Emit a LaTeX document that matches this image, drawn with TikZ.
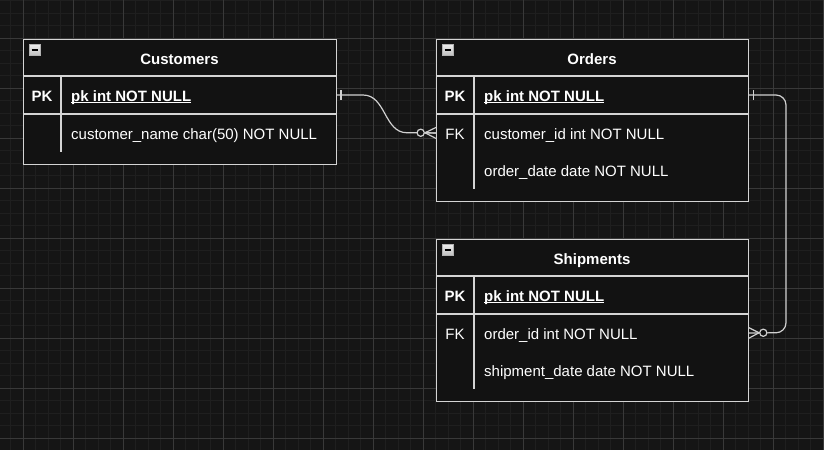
\documentclass[tikz,border=0pt]{standalone}
\usepackage{fontspec}
\setmainfont{Liberation Sans}
\definecolor{bg}{HTML}{151515}
\definecolor{gridminor}{HTML}{1F1F1F}
\definecolor{gridmajor}{HTML}{393939}
\definecolor{boxfill}{HTML}{121212}
\definecolor{edgecol}{HTML}{D4D4D4}
\definecolor{conncol}{HTML}{D0D0D0}
\begin{document}
\begin{tikzpicture}[x=1pt,y=-1pt,
  tablebox/.style={draw=edgecol,line width=1.2pt,fill=boxfill,anchor=north west,inner sep=0pt,minimum height=#1},
  rowbox/.style={anchor=north west,inner sep=0pt,minimum height=37.5pt},
  sep/.style={draw=edgecol,line width=1.2pt},
  txt/.style={text=white,inner sep=0pt,font=\fontsize{15}{18}\selectfont},
  title/.style={txt,anchor=base,font=\fontsize{15}{18}\selectfont\bfseries},
  keybold/.style={txt,anchor=base,font=\fontsize{15}{18}\selectfont\bfseries},
  keyreg/.style={txt,anchor=base},
  fieldpk/.style={txt,anchor=base west,font=\fontsize{15}{18}\selectfont\bfseries},
  field/.style={txt,anchor=base west},
  uline/.style={draw=white,line width=1.1pt},
  conn/.style={draw=conncol,line width=1.2pt},
  ring/.style={draw=conncol,line width=1.2pt,fill=boxfill},
  minusicon/.style={draw=gray!60,line width=0.8pt,top color=gray!15,bottom color=gray!50}
]
\useasboundingbox (0,0) rectangle (824,450);
\fill[bg] (0,0) rectangle (824,450);
% grid
\foreach \x in {10.8,23.3,...,824} \draw[gridminor,line width=1pt] (\x,0) -- (\x,450);
\foreach \y in {0.8,13.3,...,450} \draw[gridminor,line width=1pt] (0,\y) -- (824,\y);
\foreach \x in {23.3,73.3,...,824} \draw[gridmajor,line width=1pt] (\x,0) -- (\x,450);
\foreach \y in {38.3,88.3,...,450} \draw[gridmajor,line width=1pt] (0,\y) -- (824,\y);

% ---------- Customers ----------
\node[tablebox=125pt,minimum width=313pt] (cust) at (23,39) {};
\draw[sep] (23,76) -- (336,76);
\draw[sep] (23,114) -- (336,114);
\draw[sep] (61,76) -- (61,151.5);
\node[rowbox,minimum width=313pt] (custpk) at (23,76) {};
\node[rowbox,minimum width=313pt] (custr1) at (23,114) {};
\shade[minusicon] (29,44.5) rectangle (40.5,55.5);
\draw[black,line width=1.6pt] (31.5,50.2) -- (38,50.2);
\node[title] (custtitle) at (179.5,64) {Customers};
\node[keybold] (custpkkey) at (42,101) {PK};
\node[fieldpk] (custpkfield) at (71,101) {pk int NOT NULL};
\draw[uline] ([yshift=-1.8pt]custpkfield.base west) -- ([yshift=-1.8pt]custpkfield.base east);
\node[field] (custname) at (71,139) {customer\_name char(50) NOT NULL};

% ---------- Orders ----------
\node[tablebox=162pt,minimum width=312pt] (ord) at (436,39) {};
\draw[sep] (436,76) -- (748,76);
\draw[sep] (436,114) -- (748,114);
\draw[sep] (474,76) -- (474,189);
\node[rowbox,minimum width=312pt] (ordpk) at (436,76) {};
\node[rowbox,minimum width=312pt] (ordfk) at (436,114) {};
\shade[minusicon] (442,44.5) rectangle (453.5,55.5);
\draw[black,line width=1.6pt] (444.5,50.2) -- (451,50.2);
\node[title] (ordtitle) at (592,64) {Orders};
\node[keybold] (ordpkkey) at (455,101) {PK};
\node[fieldpk] (ordpkfield) at (484,101) {pk int NOT NULL};
\draw[uline] ([yshift=-1.8pt]ordpkfield.base west) -- ([yshift=-1.8pt]ordpkfield.base east);
\node[keyreg] (ordfkkey) at (455,139) {FK};
\node[field] (ordcust) at (484,139) {customer\_id int NOT NULL};
\node[field] (orddate) at (484,176) {order\_date date NOT NULL};

% ---------- Shipments ----------
\node[tablebox=162pt,minimum width=312pt] (ship) at (436,239) {};
\draw[sep] (436,276) -- (748,276);
\draw[sep] (436,314) -- (748,314);
\draw[sep] (474,276) -- (474,389);
\node[rowbox,minimum width=312pt] (shippk) at (436,276) {};
\node[rowbox,minimum width=312pt] (shipfk) at (436,314) {};
\shade[minusicon] (442,244.5) rectangle (453.5,255.5);
\draw[black,line width=1.6pt] (444.5,250.2) -- (451,250.2);
\node[title] (shiptitle) at (592,264) {Shipments};
\node[keybold] (shippkkey) at (455,301) {PK};
\node[fieldpk] (shippkfield) at (484,301) {pk int NOT NULL};
\draw[uline] ([yshift=-1.8pt]shippkfield.base west) -- ([yshift=-1.8pt]shippkfield.base east);
\node[keyreg] (shipfkkey) at (455,339) {FK};
\node[field] (shiporder) at (484,339) {order\_id int NOT NULL};
\node[field] (shipdate) at (484,376) {shipment\_date date NOT NULL};

% ---------- Connector Customers -> Orders ----------
\coordinate (c1a) at (363,95);
\coordinate (c1b) at (407,132.75);
\draw[conn] (custpk.east) -- (c1a) .. controls (386,95) and (384,132.75) .. (c1b) -- (ordfk.west);
\draw[conn] (341,90) -- (341,100);
\draw[conn] (425,132.75) -- (ordfk.west);
\draw[conn] (425,132.75) -- ([yshift=5.5pt]ordfk.west);
\draw[conn] (425,132.75) -- ([yshift=-5.5pt]ordfk.west);
\draw[ring] (420.7,132.75) circle (3.6pt);

% ---------- Connector Orders -> Shipments ----------
\coordinate (c2a) at (786,95);
\coordinate (c2b) at (786,332.75);
\draw[conn,rounded corners=10pt] (ordpk.east) -- (c2a) -- (c2b) -- (shipfk.east);
\draw[conn] (753.3,90) -- (753.3,100);
\draw[conn] (759,332.75) -- ([yshift=5.5pt]shipfk.east);
\draw[conn] (759,332.75) -- ([yshift=-5.5pt]shipfk.east);
\draw[ring] (763.3,332.75) circle (3.6pt);
\end{tikzpicture}
\end{document}
